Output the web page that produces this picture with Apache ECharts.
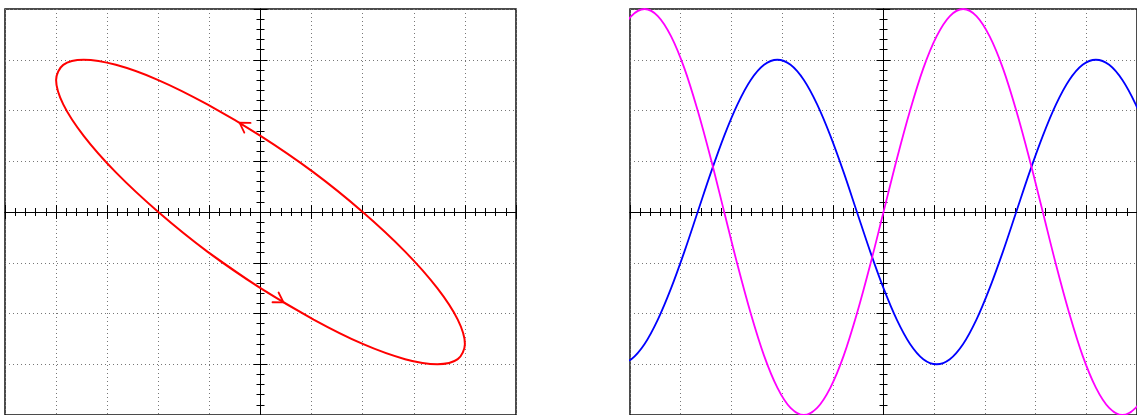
<!DOCTYPE html>
<html>
<head>
<meta charset="utf-8">
<script src="https://cdn.jsdelivr.net/npm/echarts@6/dist/echarts.min.js"></script>
<style>html,body{margin:0;padding:0;background:#fff;}#c{width:1137px;height:415px;}</style>
</head>
<body>
<div id="c"></div>
<script>
// Right panel: time samples (every pi/12) and the two waves
const waveX = [-5.236,-4.974,-4.712,-4.451,-4.189,-3.927,-3.665,-3.403,-3.142,-2.880,-2.618,-2.356,-2.094,-1.833,-1.571,-1.309,-1.047,-0.785,-0.524,-0.262,0,0.262,0.524,0.785,1.047,1.309,1.571,1.833,2.094,2.356,2.618,2.880,3.142,3.403,3.665,3.927,4.189,4.451,4.712,4.974,5.236];
const magentaY = [3.46,3.86,4.00,3.86,3.46,2.83,2.00,1.04,0,-1.04,-2.00,-2.83,-3.46,-3.86,-4.00,-3.86,-3.46,-2.83,-2.00,-1.04,0,1.04,2.00,2.83,3.46,3.86,4.00,3.86,3.46,2.83,2.00,1.04,0,-1.04,-2.00,-2.83,-3.46,-3.86,-4.00,-3.86,-3.46];
const blueY = [-3.00,-2.90,-2.60,-2.12,-1.50,-0.78,0,0.78,1.50,2.12,2.60,2.90,3.00,2.90,2.60,2.12,1.50,0.78,0,-0.78,-1.50,-2.12,-2.60,-2.90,-3.00,-2.90,-2.60,-2.12,-1.50,-0.78,0,0.78,1.50,2.12,2.60,2.90,3.00,2.90,2.60,2.12,1.50];
// Left panel: the Lissajous loop (one extra point at each end so the loop closes smoothly)
const ellipseX = [-1.04,0,1.04,2.00,2.83,3.46,3.86,4.00,3.86,3.46,2.83,2.00,1.04,0,-1.04,-2.00,-2.83,-3.46,-3.86,-4.00,-3.86,-3.46,-2.83,-2.00,-1.04,0,1.04];
const ellipseY = [-0.78,-1.50,-2.12,-2.60,-2.90,-3.00,-2.90,-2.60,-2.12,-1.50,-0.78,0,0.78,1.50,2.12,2.60,2.90,3.00,2.90,2.60,2.12,1.50,0.78,0,-0.78,-1.50,-2.12];
// Arrow heads on the loop: tip point and a point just behind it
const arrowTips = [[0.45,-1.78],[-0.41,1.76]];
const arrowTails = [[0.21,-1.63],[-0.21,1.63]];

const gridColor = '#777';
function makeAxis(gi, pos, split, lo, hi) {
  return {
    gridIndex: gi, type: 'value', min: lo, max: hi, interval: 1, position: pos,
    axisLine: {show: true, onZero: true, lineStyle: {color: '#000', width: 1}},
    axisTick: {show: true, length: 7, inside: false, lineStyle: {color: '#000', width: 1}},
    minorTick: {show: true, splitNumber: 5, length: 4, lineStyle: {color: '#000', width: 1}},
    axisLabel: {show: false},
    splitLine: {show: split, lineStyle: {color: gridColor, width: 1, type: [1, 3]}},
    minorSplitLine: {show: false}
  };
}

const ellipseData = ellipseX.map((x, i) => [x, ellipseY[i]]);
const magentaData = waveX.map((x, i) => [x, magentaY[i]]);
const blueData = waveX.map((x, i) => [x, blueY[i]]);
const arrowData = arrowTips.map((p, i) => [p[0], p[1], arrowTails[i][0], arrowTails[i][1]]);

const chart = echarts.init(document.getElementById('c'), null, {renderer: 'canvas'});
chart.setOption({
  animation: false,
  backgroundColor: '#fff',
  grid: [
    {left: 5, top: 9, width: 511, height: 406, show: true, borderColor: '#111', borderWidth: 1.5, backgroundColor: 'transparent'},
    {left: 630, top: 9, width: 511, height: 406, show: true, borderColor: '#111', borderWidth: 1.5, backgroundColor: 'transparent'}
  ],
  xAxis: [makeAxis(0, 'bottom', true, -5, 5), makeAxis(0, 'top', false, -5, 5), makeAxis(1, 'bottom', true, -5, 5), makeAxis(1, 'top', false, -5, 5)],
  yAxis: [makeAxis(0, 'left', true, -4, 4), makeAxis(0, 'right', false, -4, 4), makeAxis(1, 'left', true, -4, 4), makeAxis(1, 'right', false, -4, 4)],
  series: [
    {type: 'line', xAxisIndex: 0, yAxisIndex: 0, data: ellipseData, showSymbol: false, smooth: 0.3333,
     lineStyle: {color: '#ff0000', width: 2}, z: 5},
    {type: 'custom', xAxisIndex: 0, yAxisIndex: 0, data: arrowData, encode: {x: [0, 2], y: [1, 3]}, z: 6,
     renderItem: function (params, api) {
       const tip = api.coord([api.value(0), api.value(1)]);
       const tail = api.coord([api.value(2), api.value(3)]);
       const a = Math.atan2(tail[1] - tip[1], tail[0] - tip[0]);
       const L = 11, h = 0.55;
       const b1 = [tip[0] + L * Math.cos(a + h), tip[1] + L * Math.sin(a + h)];
       const b2 = [tip[0] + L * Math.cos(a - h), tip[1] + L * Math.sin(a - h)];
       return {type: 'polyline', shape: {points: [b1, tip, b2]}, style: {stroke: '#ff0000', lineWidth: 1.8, fill: null, lineCap: 'round', lineJoin: 'miter'}};
     }},
    {type: 'line', xAxisIndex: 2, yAxisIndex: 2, data: blueData, showSymbol: false, smooth: 0.3333,
     lineStyle: {color: '#0000ff', width: 1.8}, z: 5},
    {type: 'line', xAxisIndex: 2, yAxisIndex: 2, data: magentaData, showSymbol: false, smooth: 0.3333,
     lineStyle: {color: '#ff00ff', width: 1.8}, z: 5}
  ]
});
</script>
</body>
</html>
